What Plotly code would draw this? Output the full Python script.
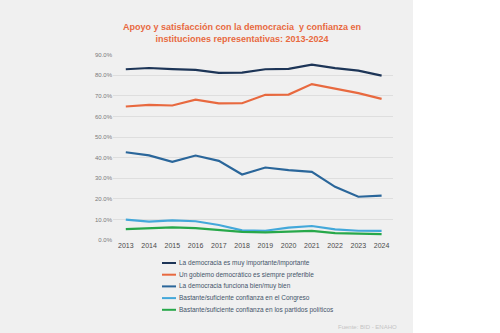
import plotly.graph_objects as go

years = list(range(2013, 2025))
series_names = [
    "La democracia es muy importante/importante",
    "Un gobiemo democrático es siempre preferible",
    "La democracia funciona bien/muy bien",
    "Bastante/suficiente confianza en el Congreso",
    "Bastante/suficiente confianza en los partidos políticos",
]
importante = [82.9, 83.5, 83.0, 82.6, 81.1, 81.3, 82.9, 83.1, 85.1, 83.4, 82.2, 79.8]
preferible = [64.8, 65.6, 65.3, 68.1, 66.3, 66.4, 70.5, 70.6, 75.7, 73.4, 71.3, 68.5]
funciona = [42.6, 41.1, 37.9, 41.0, 38.4, 31.8, 35.2, 33.9, 33.1, 25.8, 21.0, 21.5]
congreso = [9.9, 8.9, 9.5, 9.1, 7.3, 4.7, 4.5, 6.0, 6.8, 5.2, 4.5, 4.4]
partidos = [5.3, 5.8, 6.1, 5.8, 4.9, 3.9, 3.7, 4.0, 4.4, 3.3, 3.1, 2.9]
series_values = [importante, preferible, funciona, congreso, partidos]
colors = ["#1d3557", "#e8693f", "#2a669a", "#43a8da", "#27a84a"]
y_ticks = [0, 10, 20, 30, 40, 50, 60, 70, 80, 90]
y_tick_labels = [f"{v:.1f}%" for v in y_ticks]

FONT = "Liberation Sans, Arial, sans-serif"

fig = go.Figure()
for name, vals, col in zip(series_names, series_values, colors):
    fig.add_trace(go.Scatter(x=years, y=vals, mode="lines", name=name,
                             line=dict(color=col, width=2.2), showlegend=False))

shapes = [
    dict(type="rect", xref="paper", yref="paper", x0=-113/280, x1=(413-113)/280,
         y0=-93/186, y1=(333-54)/186 + 0.01, fillcolor="#f0f0f0", line=dict(width=0),
         layer="below"),
]
annotations = []
# custom legend
leg_y0 = 263
for i, (name, col) in enumerate(zip(series_names, colors)):
    ypx = leg_y0 + i * 11.7
    yp = (333 - 93 - ypx) / 186
    shapes.append(dict(type="line", xref="paper", yref="paper",
                       x0=(162 - 113) / 280, x1=(176 - 113) / 280, y0=yp, y1=yp,
                       line=dict(color=col, width=2)))
    annotations.append(dict(xref="paper", yref="paper", x=(177 - 113) / 280, y=yp,
                            xanchor="left", yanchor="middle", text=name, showarrow=False,
                            font=dict(family=FONT, size=6.5, color="#44546a")))
annotations.append(dict(xref="paper", yref="paper", x=(399 - 113) / 280, y=(240 - 327) / 186,
                        xanchor="right", yanchor="middle", text="Fuente: BID - ENAHO",
                        showarrow=False, font=dict(family=FONT, size=6, color="#c4c4c4")))

fig.update_layout(
    width=500, height=333,
    margin=dict(l=113, r=107, t=54, b=93),
    paper_bgcolor="white", plot_bgcolor="rgba(0,0,0,0)",
    title=dict(text="Apoyo y satisfacción con la democracia  y confianza en<br>instituciones representativas: 2013-2024",
               x=242/500, xanchor="center", y=1 - 30/333, yanchor="middle",
               font=dict(family=FONT, size=9, color="#e8693f", weight="bold")),
    xaxis=dict(range=[2012.45, 2024.49], tickmode="array", tickvals=years,
               ticktext=[str(y) for y in years], showgrid=False, zeroline=False,
               showline=False, ticks="", tickfont=dict(family=FONT, size=7, color="#4a4a4a")),
    yaxis=dict(range=[0, 90.3], tickmode="array", tickvals=y_ticks, ticktext=y_tick_labels,
               showgrid=True, gridcolor="#dedede", gridwidth=1, zeroline=False,
               showline=False, ticks="", tickfont=dict(family=FONT, size=6, color="#7a7a7a")),
    shapes=shapes, annotations=annotations,
)
fig.write_html("out.html")
